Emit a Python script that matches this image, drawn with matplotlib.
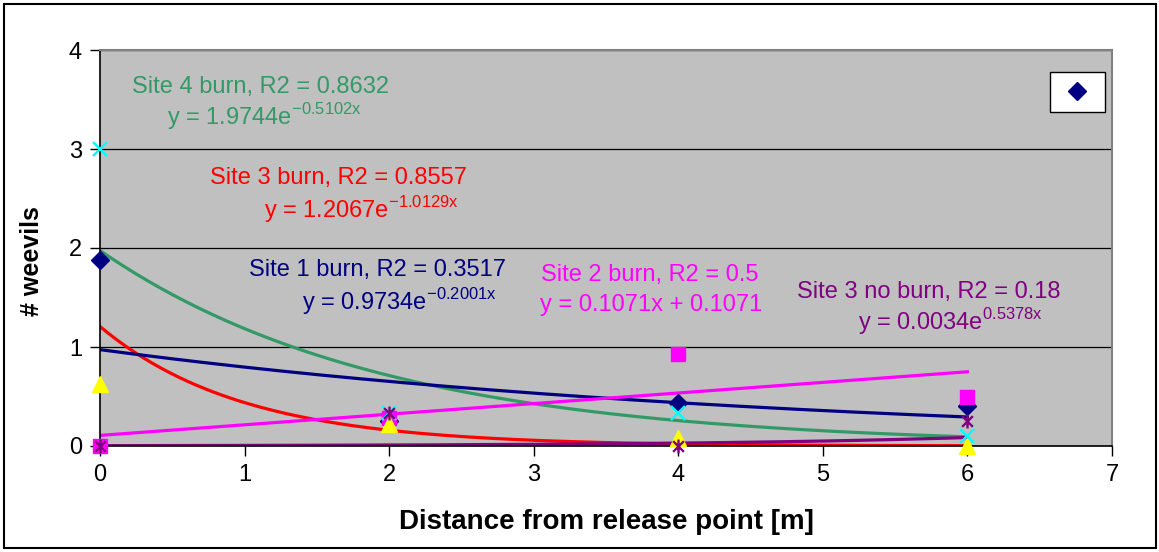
import numpy as np
import matplotlib
matplotlib.use("Agg")
import matplotlib.pyplot as plt
from matplotlib.path import Path
from matplotlib.lines import Line2D
from matplotlib.patches import Rectangle

plt.rcParams['font.family'] = 'Liberation Sans'

# Distances sampled [m]
distance = [0, 2, 4, 6]

# Mean weevil counts per site
site1_burn = [1.875, 0.25, 0.43, 0.40]
site2_burn = [0.0, 0.2857, 0.9286, 0.50]
site3_burn = [0.625, 0.22, 0.083, 0.0]
site3_noburn = [0.0, 0.333, 0.0, 0.25]
site4_burn = [3.0, 0.333, 0.333, 0.10]

# Trendline coefficients shown on the chart
fit_site1 = (0.9734, -0.2001)      # exponential a*e^(b*x)
fit_site2 = (0.1071, 0.1071)       # linear: slope, intercept
fit_site3 = (1.2067, -1.0129)      # exponential
fit_site3nb = (0.0034, 0.5378)     # exponential
fit_site4 = (1.9744, -0.5102)      # exponential

navy = '#000080'
magenta = '#FF00FF'
red = '#FF0000'
purple = '#800080'
green = '#339966'

# Excel-style star: an x with a vertical bar through it
star = Path([(-1, -1), (1, 1), (-1, 1), (1, -1), (0, -1.3), (0, 1.3)],
            [Path.MOVETO, Path.LINETO, Path.MOVETO, Path.LINETO, Path.MOVETO, Path.LINETO])

fig = plt.figure(figsize=(11.59, 5.52), dpi=100)
fig.patches.append(Rectangle((4/1159, 4/552), 1152/1159, 544/552, transform=fig.transFigure,
                             fill=False, edgecolor='black', linewidth=1.5))
ax = fig.add_axes([100/1159, 106/552, 1012/1159, 396/552])
ax.set_facecolor('#C0C0C0')

# trendlines
xs = np.linspace(0, 6, 200)
ax.plot(xs, fit_site4[0]*np.exp(fit_site4[1]*xs), color=green, lw=2.3, zorder=2)
ax.plot(xs, fit_site3[0]*np.exp(fit_site3[1]*xs), color=red, lw=2.3, zorder=2)
ax.plot(xs, fit_site1[0]*np.exp(fit_site1[1]*xs), color=navy, lw=2.3, zorder=2)
ax.plot(xs, fit_site2[0]*xs + fit_site2[1], color=magenta, lw=2.3, zorder=2)
ax.plot(xs, fit_site3nb[0]*np.exp(fit_site3nb[1]*xs), color=purple, lw=2.3, zorder=2)

# data points
ax.plot(distance, site1_burn, ls='none', marker='D', ms=9, color=navy, clip_on=False, zorder=3)
ax.plot(distance, site2_burn, ls='none', marker='s', ms=10, color=magenta, clip_on=False, zorder=3)
ax.plot(distance, site3_burn, ls='none', marker='^', ms=11, color='#FFFF00', clip_on=False, zorder=3)
ax.plot(distance, site4_burn, ls='none', marker='x', ms=10, mew=1.7, color='#00FFFF', clip_on=False, zorder=3)
ax.plot(distance, site3_noburn, ls='none', marker=star, ms=10, mew=1.7, color=purple,
        fillstyle='none', clip_on=False, zorder=3)

# trendline labels
def label(x, y, s, c):
    ax.text(x, y, s, color=c, fontsize=17, ha='center', va='center', zorder=4)

label(1.11, 3.63, 'Site 4 burn, R2 = 0.8632', green)
label(1.14, 3.33, 'y = 1.9744e$^{\\mathregular{-0.5102x}}$', green)
label(1.65, 2.71, 'Site 3 burn, R2 = 0.8557', red)
label(1.81, 2.39, 'y = 1.2067e$^{\\mathregular{-1.0129x}}$', red)
label(1.92, 1.78, 'Site 1 burn, R2 = 0.3517', navy)
label(2.07, 1.46, 'y = 0.9734e$^{\\mathregular{-0.2001x}}$', navy)
label(3.80, 1.73, 'Site 2 burn, R2 = 0.5', magenta)
label(3.81, 1.42, 'y = 0.1071x + 0.1071', magenta)
label(5.73, 1.56, 'Site 3 no burn, R2 = 0.18', purple)
label(5.88, 1.26, 'y = 0.0034e$^{\\mathregular{0.5378x}}$', purple)

ax.set_xlim(0, 7)
ax.set_ylim(0, 4)
ax.set_xticks(range(0, 8))
ax.set_yticks(range(0, 5))
ax.yaxis.grid(True, color='black', lw=0.9)
ax.set_axisbelow(True)
ax.tick_params(axis='both', direction='out', length=7, width=1, labelsize=17, pad=6)
for side in ['top', 'right']:
    ax.spines[side].set_color('#808080')
    ax.spines[side].set_linewidth(1.5)
for side in ['left', 'bottom']:
    ax.spines[side].set_linewidth(1.2)

ax.set_xlabel('Distance from release point [m]', fontsize=20, fontweight='bold')
ax.set_ylabel('# weevils', fontsize=18, fontweight='bold')
ax.xaxis.set_label_coords(0.5, -0.16)
ax.yaxis.set_label_coords(-0.055, 0.467)

leg_handle = Line2D([], [], ls='none', marker='D', ms=9, color=navy)
leg = ax.legend(handles=[leg_handle], labels=[''], loc='upper right',
                bbox_to_anchor=(0.993, 0.944), fancybox=False, framealpha=1,
                edgecolor='black', fontsize=12, handlelength=1.8, handletextpad=0,
                borderpad=0.75, borderaxespad=0)
leg.get_frame().set_linewidth(1)

fig.savefig('out.png', dpi=100)
